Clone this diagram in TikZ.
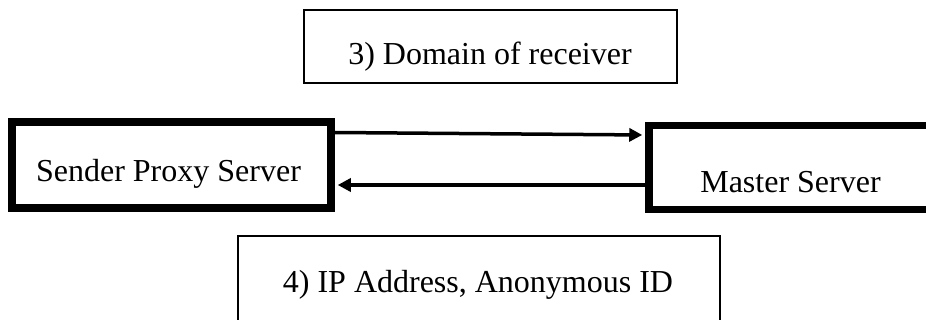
\documentclass[tikz,border=0pt]{standalone}
\usepackage{fontspec}
\setmainfont{Liberation Serif}
\usetikzlibrary{arrows.meta}
\begin{document}
\begin{tikzpicture}[x=1pt,y=-1pt,
  thickbox/.style={draw=black,line width=7.5pt,rectangle,inner sep=0pt,fill=none},
  thinbox/.style={draw=black,line width=2pt,rectangle,inner sep=0pt},
  lbl/.style={anchor=base,inner sep=0pt,font=\fontsize{32}{38}\selectfont},
  arr/.style={line width=3.5pt,-{Triangle[length=13pt,width=13pt]},shorten >=3pt}
]
\useasboundingbox (0,0) rectangle (926,320);
\node[thinbox,minimum width=373pt,minimum height=73pt] (top) at (490.5,46.5) {};
\node[thickbox,minimum width=319pt,minimum height=86pt] (sender) at (171.5,165) {};
\node[thickbox,minimum width=285pt,minimum height=84pt] (master) at (791.5,167.5) {};
\node[thinbox,minimum width=482pt,minimum height=86pt] (bottom) at (479,279) {};
\node[lbl] (toptxt) at (490,65) {3) Domain of receiver};
\node[lbl] (sendertxt) at (168.5,182) {Sender Proxy Server};
\node[lbl] (mastertxt) at (790.5,193) {Master Server};
\node[lbl] (bottomtxt) at (478,293) {4) IP Address, Anonymous ID};
\draw[arr] ([yshift=32.5]sender.east) -- ([yshift=32.5]master.west);
\draw[arr] ([yshift=-17.5]master.west) -- ([yshift=-20]sender.east);
\end{tikzpicture}
\end{document}
